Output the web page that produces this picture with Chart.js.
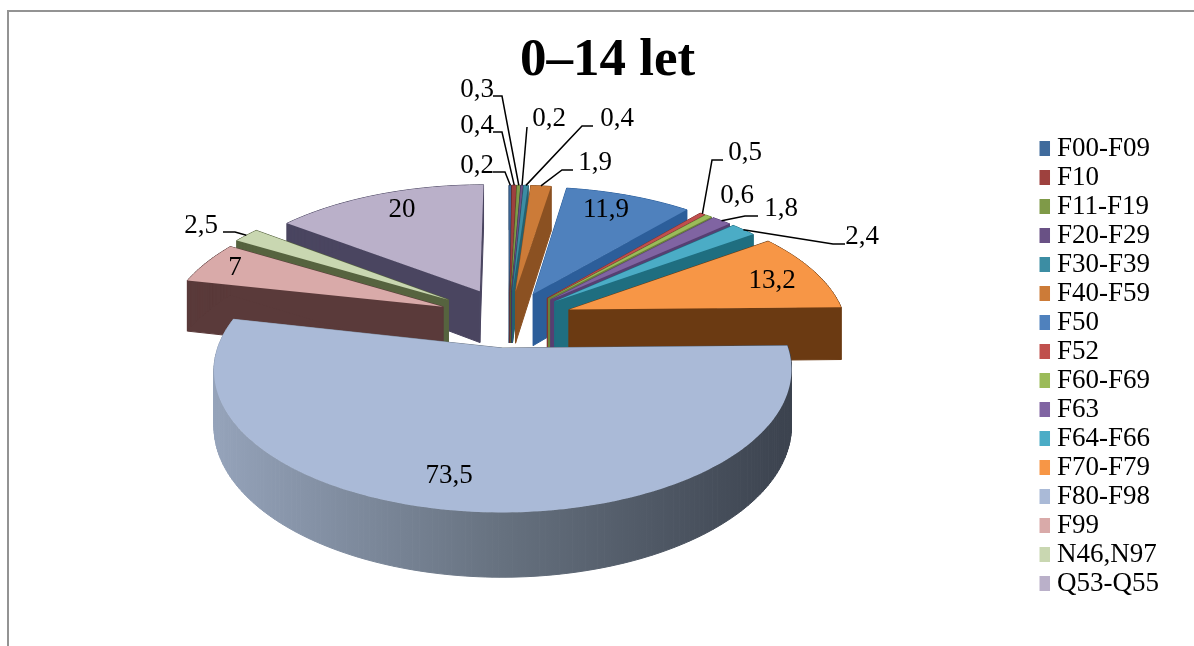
<!DOCTYPE html>
<html>
<head>
<meta charset="utf-8">
<title>0–14 let</title>
<script src="https://cdn.jsdelivr.net/npm/chart.js@4/dist/chart.umd.js"></script>
<style>
    html, body { margin: 0; padding: 0; background: #fff; overflow: hidden; }
    #frame {
        position: absolute; left: 7px; top: 10px; width: 1187px; height: 636px;
        border-left: 2px solid #939393; border-top: 2px solid #939393;
        overflow: hidden;
    }
    #pie { display: block; }
</style>
</head>
<body>
<div id="frame"><canvas id="pie" width="1198" height="634"></canvas></div>
<script>
const categories = ['F00-F09', 'F10', 'F11-F19', 'F20-F29', 'F30-F39', 'F40-F59', 'F50', 'F52',
    'F60-F69', 'F63', 'F64-F66', 'F70-F79', 'F80-F98', 'F99', 'N46,N97', 'Q53-Q55'];
const values = [0.2, 0.4, 0.3, 0.2, 0.4, 1.9, 11.9, 0.5, 0.6, 1.8, 2.4, 13.2, 73.5, 7, 2.5, 20];

const topColors = ['#406B9C', '#9E413E', '#7F9A48', '#695185', '#3C8DA3', '#CC7B38', '#4F81BD', '#C0504D',
    '#9BBB59', '#8064A2', '#4BACC6', '#F79646', '#AABAD7', '#D9AAA9', '#C9D7B1', '#BAB0C9'];
const sideColors = ['#27466A', '#6B2A28', '#556A2E', '#46345C', '#25606F', '#8B5122', '#2C5E9A', '#843330',
    '#6A8239', '#563F72', '#1F6E80', '#6B3A12', '#566173', '#5A3A3A', '#56633F', '#4A4560'];
const sliceOffsets = [60, 60, 60, 60, 60, 60, 60, 60, 60, 60, 60, 64, 60, 72, 75, 68];

// label anchors on the canvas: text centre, then the leader elbow points (if any)
const labelSpots = [
    { text: [468, 154], leader: [[484, 160], [496, 160]] },
    { text: [468, 114], leader: [[484, 120], [493, 120]] },
    { text: [468, 78], leader: [[484, 84], [493, 84]] },
    { text: [540, 107], leader: [[518, 115]] },
    { text: [608, 107], leader: [[584, 114], [573, 114]] },
    { text: [586, 151], leader: [[564, 158], [553, 158]] },
    { text: [597, 198] },
    { text: [736, 141], leader: [[714, 148], [703, 148]] },
    { text: [728, 184] },
    { text: [772, 197], leader: [[749, 204], [736, 204]] },
    { text: [853, 225], leader: [[836, 232], [824, 232]] },
    { text: [763, 269] },
    { text: [440, 464] },
    { text: [226, 256] },
    { text: [192, 214], leader: [[214, 220], [226, 220]] },
    { text: [393, 198] }
];

// fake-3D view of the pie plane
const pieView = { centerX: 500, centerY: 307, tilt: 0.471, distance: 1840, depth: 53 };
const FONT = '"Liberation Serif", serif';

function project(u, v) {
    const s = 1 / (1 - v / pieView.distance);
    return { x: pieView.centerX + u * s, y: pieView.centerY + pieView.tilt * v * s, s: s };
}

// outline of one exploded slice, apex first, in projected coordinates
function sliceOutline(arc) {
    const mid = (arc.startAngle + arc.endAngle) / 2;
    const dx = Math.cos(mid) * arc.options.offset;
    const dy = Math.sin(mid) * arc.options.offset;
    const pts = [project(dx, dy)];
    const steps = Math.max(2, Math.ceil((arc.endAngle - arc.startAngle) / 0.02));
    for (let i = 0; i <= steps; i++) {
        const a = arc.startAngle + (arc.endAngle - arc.startAngle) * i / steps;
        pts.push(project(dx + arc.outerRadius * Math.cos(a), dy + arc.outerRadius * Math.sin(a)));
    }
    return pts;
}

function rimPoint(arc) {
    const mid = (arc.startAngle + arc.endAngle) / 2;
    const r = arc.outerRadius + arc.options.offset;
    return project(r * Math.cos(mid), r * Math.sin(mid));
}

function sideFill(ctx, index, pts) {
    if (index !== 12) return sideColors[index];
    // the big slice has a shaded wall, light on the left and dark on the right
    const xs = pts.map(p => p.x);
    const grad = ctx.createLinearGradient(Math.min(...xs), 0, Math.max(...xs), 0);
    grad.addColorStop(0, '#95A3BA');
    grad.addColorStop(0.5, '#66717F');
    grad.addColorStop(1, '#3B424E');
    return grad;
}

const pie3d = {
    id: 'pie3d',
    beforeDatasetsDraw(chart) {
        const ctx = chart.ctx;
        const arcs = chart.getDatasetMeta(0).data;
        const order = arcs.map((arc, i) => i).sort(function(a, b) {
            const ma = (arcs[a].startAngle + arcs[a].endAngle) / 2;
            const mb = (arcs[b].startAngle + arcs[b].endAngle) / 2;
            return Math.sin(ma) - Math.sin(mb);
        });
        ctx.save();
        ctx.lineJoin = 'round';
        order.forEach(function(i) {
            const pts = sliceOutline(arcs[i]);
            const wall = sideFill(ctx, i, pts);
            ctx.fillStyle = wall;
            ctx.strokeStyle = wall;
            ctx.lineWidth = 1;
            for (let k = 0; k < pts.length; k++) {
                const a = pts[k];
                const b = pts[(k + 1) % pts.length];
                ctx.beginPath();
                ctx.moveTo(a.x, a.y);
                ctx.lineTo(b.x, b.y);
                ctx.lineTo(b.x, b.y + pieView.depth * b.s);
                ctx.lineTo(a.x, a.y + pieView.depth * a.s);
                ctx.closePath();
                ctx.fill();
                ctx.stroke();
            }
            ctx.beginPath();
            pts.forEach(function(p, k) {
                if (k === 0) ctx.moveTo(p.x, p.y); else ctx.lineTo(p.x, p.y);
            });
            ctx.closePath();
            ctx.fillStyle = topColors[i];
            ctx.fill();
        });
        ctx.restore();
        return false;
    },
    afterDraw(chart) {
        const ctx = chart.ctx;
        const arcs = chart.getDatasetMeta(0).data;
        ctx.save();
        ctx.font = '27px ' + FONT;
        ctx.fillStyle = '#000';
        ctx.strokeStyle = '#000';
        ctx.lineWidth = 1.5;
        ctx.textAlign = 'center';
        ctx.textBaseline = 'middle';
        values.forEach(function(v, i) {
            const spot = labelSpots[i];
            if (spot.leader) {
                const end = rimPoint(arcs[i]);
                ctx.beginPath();
                spot.leader.forEach(function(p, k) {
                    if (k === 0) ctx.moveTo(p[0], p[1]); else ctx.lineTo(p[0], p[1]);
                });
                ctx.lineTo(end.x, end.y);
                ctx.stroke();
            }
            ctx.fillText(String(v).replace('.', ','), spot.text[0], spot.text[1]);
        });
        ctx.restore();
    }
};

new Chart(document.getElementById('pie').getContext('2d'), {
    type: 'pie',
    data: {
        labels: categories,
        datasets: [{
            data: values,
            backgroundColor: topColors,
            borderWidth: 0,
            offset: sliceOffsets,
            radius: 276
        }]
    },
    options: {
        responsive: false,
        animation: false,
        layout: { padding: { left: 37, right: 38, bottom: 47 } },
        plugins: {
            title: {
                display: true,
                text: '0–14 let',
                color: '#000',
                font: { family: FONT, size: 53, weight: 'bold' },
                padding: { top: 18, bottom: 10 }
            },
            legend: {
                position: 'right',
                align: 'end',
                labels: {
                    color: '#000',
                    font: { family: FONT, size: 27 },
                    usePointStyle: true,
                    pointStyle: 'rect',
                    boxWidth: 2,
                    boxHeight: 15,
                    padding: 2
                }
            },
            tooltip: { enabled: false }
        }
    },
    plugins: [pie3d]
});
</script>
</body>
</html>
